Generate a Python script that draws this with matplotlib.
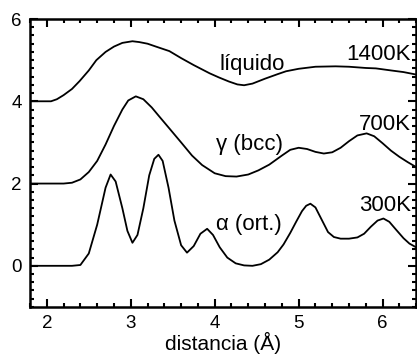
import matplotlib
matplotlib.use("Agg")
import matplotlib.pyplot as plt
from matplotlib.ticker import MultipleLocator

plt.rcParams['font.family'] = ['Liberation Sans', 'DejaVu Sans']

# ---------------------------
# Dados
# ---------------------------
x_alfa = [1.8, 2.3, 2.4, 2.5, 2.6, 2.7, 2.76, 2.82, 2.9, 2.96, 3.02, 3.08, 3.15, 3.22,
          3.28, 3.33, 3.38, 3.45, 3.52, 3.6, 3.67, 3.75, 3.83, 3.91, 3.98, 4.06, 4.15,
          4.25, 4.35, 4.45, 4.55, 4.65, 4.75, 4.82, 4.9, 4.97, 5.04, 5.09, 5.14, 5.2,
          5.28, 5.35, 5.42, 5.5, 5.6, 5.7, 5.78, 5.86, 5.94, 6.01, 6.08, 6.16, 6.25,
          6.32, 6.4]
y_alfa = [0.0, 0.0, 0.02, 0.3, 1.0, 1.9, 2.22, 2.05, 1.4, 0.85, 0.56, 0.75, 1.4, 2.2,
          2.6, 2.7, 2.55, 1.9, 1.1, 0.5, 0.32, 0.48, 0.78, 0.9, 0.75, 0.45, 0.2,
          0.06, 0.01, 0.0, 0.04, 0.15, 0.33, 0.52, 0.8, 1.07, 1.33, 1.46, 1.51, 1.42,
          1.1, 0.82, 0.7, 0.66, 0.66, 0.69, 0.78, 0.95, 1.1, 1.15, 1.07, 0.88, 0.67,
          0.54, 0.45]

x_gama = [1.8, 2.2, 2.3, 2.4, 2.5, 2.6, 2.7, 2.8, 2.9, 2.97, 3.06, 3.15, 3.25, 3.34,
          3.46, 3.6, 3.73, 3.85, 4.0, 4.13, 4.26, 4.4, 4.52, 4.65, 4.8, 4.9, 5.0, 5.1,
          5.2, 5.3, 5.4, 5.5, 5.6, 5.7, 5.81, 5.9, 6.0, 6.1, 6.2, 6.3, 6.4]
y_gama = [2.0, 2.0, 2.02, 2.1, 2.28, 2.55, 2.95, 3.4, 3.8, 4.02, 4.12, 4.05, 3.85, 3.63,
          3.34, 3.0, 2.68, 2.45, 2.25, 2.18, 2.17, 2.22, 2.32, 2.46, 2.68, 2.82, 2.87, 2.84,
          2.77, 2.73, 2.76, 2.87, 3.03, 3.17, 3.22, 3.15, 2.98, 2.8, 2.65, 2.52, 2.4]

x_liquido = [1.8, 2.05, 2.12, 2.2, 2.3, 2.39, 2.5, 2.59, 2.7, 2.8, 2.9, 3.02, 3.1, 3.2,
             3.3, 3.46, 3.6, 3.75, 3.94, 4.05, 4.17, 4.27, 4.35, 4.45, 4.6, 4.75, 4.85,
             5.0, 5.2, 5.44, 5.6, 5.8, 5.92, 6.1, 6.25, 6.4]
y_liquido = [4.0, 4.0, 4.05, 4.15, 4.3, 4.49, 4.75, 5.0, 5.2, 5.33, 5.42, 5.46, 5.44, 5.4,
             5.33, 5.22, 5.05, 4.88, 4.68, 4.58, 4.48, 4.41, 4.39, 4.43, 4.55, 4.66, 4.73,
             4.79, 4.84, 4.85, 4.84, 4.81, 4.8, 4.75, 4.71, 4.65]

# ---------------------------
# Grafico
# ---------------------------
fig = plt.figure(figsize=(4.17, 3.59), dpi=100)
ax = fig.add_axes([0.072, 0.145, 0.926, 0.802])

for xs, ys in [(x_alfa, y_alfa), (x_gama, y_gama), (x_liquido, y_liquido)]:
    ax.plot(xs, ys, color='black', linewidth=1.3)

ax.set_xlim(1.8, 6.4)
ax.set_ylim(-1, 6)
ax.xaxis.set_major_locator(MultipleLocator(1))
ax.xaxis.set_minor_locator(MultipleLocator(0.2))
ax.yaxis.set_major_locator(MultipleLocator(2))
ax.yaxis.set_minor_locator(MultipleLocator(0.2))
ax.tick_params(which='both', direction='in', top=True, right=True, width=1.5,
               labelsize=13.5, pad=6)
ax.tick_params(which='major', length=6)
ax.tick_params(which='minor', length=3)
for s in ax.spines.values():
    s.set_linewidth(1.8)

ax.set_xlabel('distancia (Å)', fontsize=15, labelpad=0)

kw = dict(fontsize=16, color='black', va='baseline')
ax.text(4.45, 4.76, 'líquido', ha='center', **kw)
ax.text(6.34, 5.0, '1400K', ha='right', **kw)
ax.text(4.41, 2.81, 'γ (bcc)', ha='center', **kw)
ax.text(6.34, 3.30, '700K', ha='right', **kw)
ax.text(4.41, 0.86, 'α (ort.)', ha='center', **kw)
ax.text(6.34, 1.33, '300K', ha='right', **kw)

fig.savefig('out.png', dpi=100)
